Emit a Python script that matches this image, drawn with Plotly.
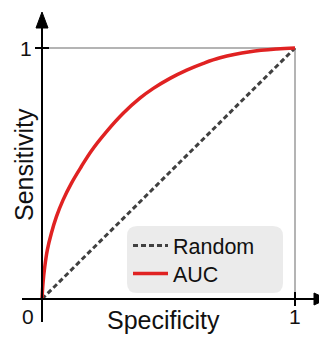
import plotly.graph_objects as go

# ---- data ----
specificity = [0, 0.004, 0.011, 0.021, 0.037, 0.057, 0.083, 0.116, 0.155, 0.195, 0.256, 0.321,
               0.387, 0.440, 0.506, 0.572, 0.638, 0.704, 0.822, 0.928, 1.0]
sensitivity = [0, 0.063, 0.129, 0.195, 0.262, 0.328, 0.394, 0.461, 0.527, 0.590, 0.668, 0.740,
               0.800, 0.839, 0.879, 0.912, 0.939, 0.961, 0.985, 0.996, 1.0]
random_x = [0, 1]
random_y = [0, 1]
tick_vals = [0, 1]
tick_text = ["0", "1"]
x_title = "Specificity"
y_title = "Sensitivity"
series_names = ["Random", "AUC"]

# page body margin offset (default 8px in the written page)
OFF = 8
REF_W, REF_H = 327, 338
W, H = REF_W - OFF, REF_H - OFF
# reference pixel geometry of the unit square
PX0, PX1 = 42, 295
PY0, PY1 = 299, 48
sx = (PX1 - PX0)
sy = (PY0 - PY1)
# plot-area edges in reference pixels
PL, PR, PT, PB = 22, 327, 10, 325
xr = [(PL - PX0) / sx, (PR - PX0) / sx]
yr = [(PY0 - PB) / sy, (PY0 - PT) / sy]
ML, MR, MT, MB = PL - OFF, W - (PR - OFF), PT - OFF, H - (PB - OFF)

def px2x(p):
    return (p - PX0) / sx

def px2y(p):
    return (PY0 - p) / sy

def x2paper(v):
    return (v - xr[0]) / (xr[1] - xr[0])

def y2paper(v):
    return (v - yr[0]) / (yr[1] - yr[0])

FONT = "Liberation Sans, Arial, sans-serif"
fig = go.Figure()
fig.add_trace(go.Scatter(x=random_x, y=random_y, mode="lines", name=series_names[0], legend="legend",
                         line=dict(color="#404040", width=3, dash="5px,3px")))
fig.add_trace(go.Scatter(x=specificity, y=sensitivity, mode="lines", name=series_names[1], legend="legend2",
                         line=dict(color="#e02222", width=3.5, shape="spline", smoothing=1.0)))

shapes = []
shapes.append(dict(type="line", x0=0, x1=1, y0=1, y1=1, line=dict(color="#b4b4b4", width=2), layer="below"))
shapes.append(dict(type="line", x0=1, x1=1, y0=0, y1=1, line=dict(color="#b4b4b4", width=2), layer="below"))
shapes.append(dict(type="line", x0=px2x(22), x1=px2x(316), y0=0, y1=0, line=dict(color="black", width=2)))
shapes.append(dict(type="line", x0=0, x1=0, y0=px2y(322), y1=px2y(26), line=dict(color="black", width=2)))
ax_tip, ax_base = px2x(327), px2x(314)
shapes.append(dict(type="path",
                   path=f"M {ax_base} {px2y(PY0-6)} L {ax_tip} 0 L {ax_base} {px2y(PY0+6)} Z",
                   fillcolor="black", line=dict(color="black", width=1)))
ay_tip, ay_base = px2y(12), px2y(28)
shapes.append(dict(type="path",
                   path=f"M {px2x(PX0-6)} {ay_base} L 0 {ay_tip} L {px2x(PX0+6)} {ay_base} Z",
                   fillcolor="black", line=dict(color="black", width=1)))
shapes.append(dict(type="line", x0=1, x1=1, y0=px2y(PY0+7), y1=px2y(PY0-7), line=dict(color="black", width=2)))
shapes.append(dict(type="line", x0=px2x(PX0-7), x1=px2x(PX0+7), y0=1, y1=1, line=dict(color="black", width=2)))
bx0, bx1, by0, by1 = px2x(127), px2x(283), px2y(293), px2y(226)
r = 0.04
shapes.append(dict(type="path", layer="below", fillcolor="#ebebeb", line=dict(width=0),
                   path=(f"M {bx0+r} {by0} L {bx1-r} {by0} Q {bx1} {by0} {bx1} {by0+r} "
                         f"L {bx1} {by1-r} Q {bx1} {by1} {bx1-r} {by1} L {bx0+r} {by1} "
                         f"Q {bx0} {by1} {bx0} {by1-r} L {bx0} {by0+r} Q {bx0} {by0} {bx0+r} {by0} Z")))

tf = dict(size=21, color="#111", family=FONT)
annotations = [
    dict(x=px2x(28), y=px2y(316), text=tick_text[0], showarrow=False, font=tf),
    dict(x=tick_vals[1], y=px2y(316), text=tick_text[1], showarrow=False, font=tf),
    dict(x=px2x(26), y=tick_vals[1], text=tick_text[1], showarrow=False, font=tf),
    dict(x=px2x(163), y=px2y(320), text=x_title, showarrow=False,
         font=dict(size=25, color="#111", family=FONT)),
    dict(x=px2x(24), y=px2y(165), text=y_title, showarrow=False, textangle=-90,
         font=dict(size=25, color="#111", family=FONT)),
]

leg_common = dict(xanchor="left", yanchor="top", bgcolor="rgba(0,0,0,0)",
                  font=dict(size=21.5, color="#111", family=FONT), itemwidth=35)
fig.update_layout(
    width=W, height=H,
    margin=dict(l=ML, r=MR, t=MT, b=MB),
    paper_bgcolor="white", plot_bgcolor="white",
    xaxis=dict(range=xr, visible=False, fixedrange=True),
    yaxis=dict(range=yr, visible=False, fixedrange=True),
    shapes=shapes, annotations=annotations,
    showlegend=True,
    legend=dict(x=x2paper(px2x(128)), y=y2paper(px2y(225)), **leg_common),
    legend2=dict(x=x2paper(px2x(128)), y=y2paper(px2y(253)), **leg_common),
)
fig.write_html("out.html")
